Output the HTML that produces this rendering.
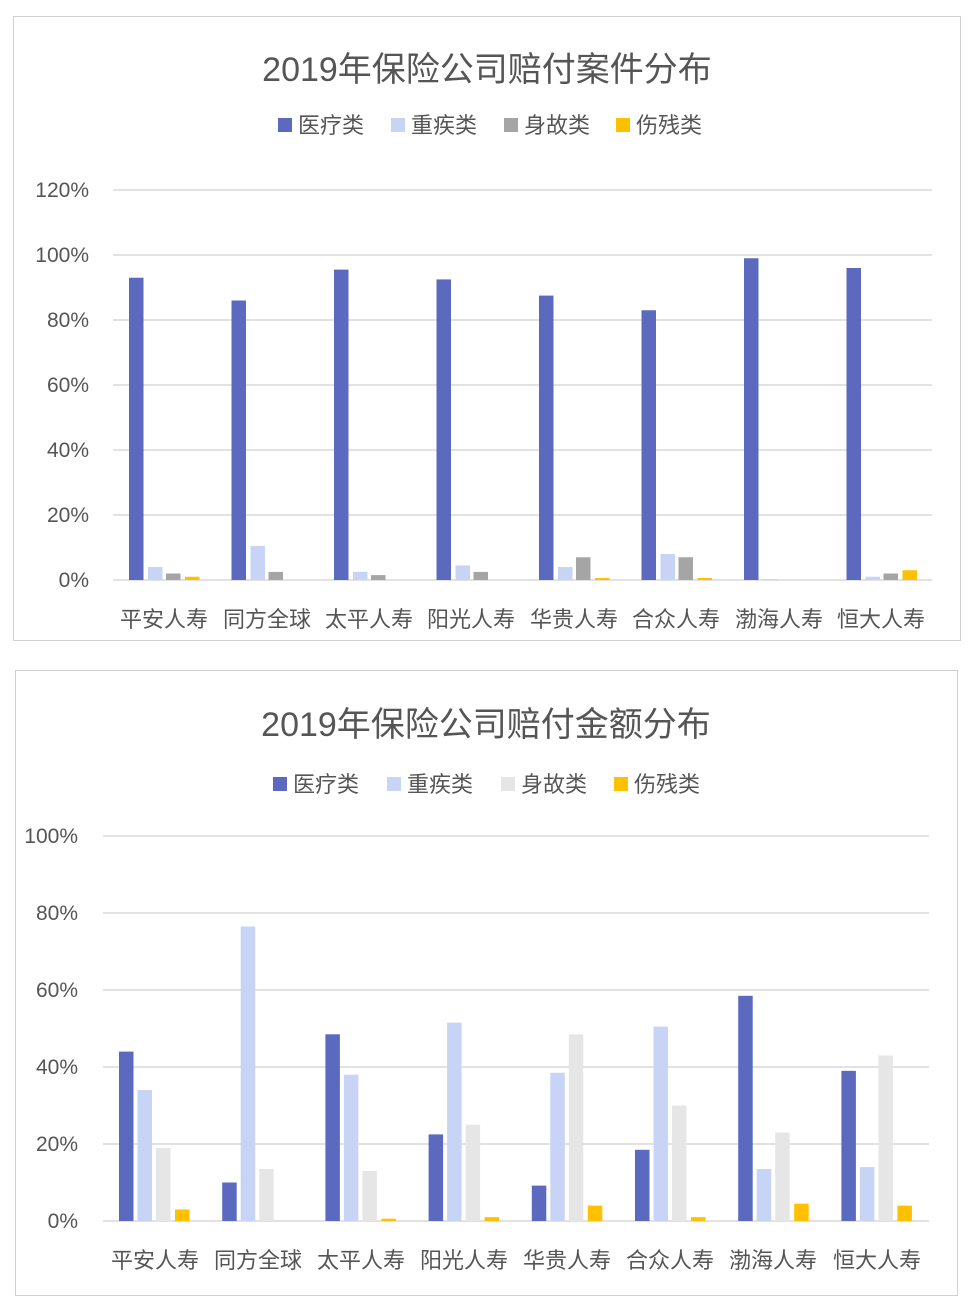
<!DOCTYPE html>
<html><head><meta charset="utf-8"><style>
body{margin:0;background:#fff;}
svg{display:block;font-family:"Liberation Sans","Noto Sans CJK SC",sans-serif;}
</style></head><body>
<svg width="974" height="1307" xmlns="http://www.w3.org/2000/svg">
<rect x="0" y="0" width="974" height="1307" fill="#fff"/>
<!-- Chart 1 -->
<rect x="13.5" y="16.5" width="947" height="624" fill="#fff" stroke="#d0d0d0"/>
<text x="487" y="81" font-size="34" text-anchor="middle" fill="#555">2019年保险公司赔付案件分布</text>
<g font-size="22" fill="#555">
<rect x="278" y="118" width="14" height="14" fill="#5b6abf"/><text x="298" y="133">医疗类</text>
<rect x="391" y="118" width="14" height="14" fill="#c7d4f5"/><text x="411" y="133">重疾类</text>
<rect x="504" y="118" width="14" height="14" fill="#a5a5a5"/><text x="524" y="133">身故类</text>
<rect x="616" y="118" width="14" height="14" fill="#ffc000"/><text x="636" y="133">伤残类</text>
</g>
<g stroke="#d9d9d9" stroke-width="1.5">
<line x1="113" x2="932" y1="190" y2="190"/><line x1="113" x2="932" y1="255" y2="255"/>
<line x1="113" x2="932" y1="320" y2="320"/><line x1="113" x2="932" y1="385" y2="385"/>
<line x1="113" x2="932" y1="450" y2="450"/><line x1="113" x2="932" y1="515" y2="515"/>
<line x1="113" x2="932" y1="580" y2="580"/>
</g>
<g font-size="21" fill="#555" text-anchor="end">
<text x="89" y="197">120%</text><text x="89" y="262">100%</text><text x="89" y="327">80%</text>
<text x="89" y="392">60%</text><text x="89" y="457">40%</text><text x="89" y="522">20%</text><text x="89" y="587">0%</text>
</g>
<g>
<rect x="129" y="277.75" width="14.5" height="302.25" fill="#5b6abf"/>
<rect x="148" y="567" width="14.5" height="13" fill="#c7d4f5"/>
<rect x="166" y="573.5" width="14.5" height="6.5" fill="#a5a5a5"/>
<rect x="185" y="576.75" width="14.5" height="3.25" fill="#ffc000"/>

<rect x="231.5" y="300.5" width="14.5" height="279.5" fill="#5b6abf"/>
<rect x="250.5" y="545.9" width="14.5" height="34.1" fill="#c7d4f5"/>
<rect x="268.5" y="571.9" width="14.5" height="8.1" fill="#a5a5a5"/>

<rect x="334" y="269.6" width="14.5" height="310.4" fill="#5b6abf"/>
<rect x="353" y="571.9" width="14.5" height="8.1" fill="#c7d4f5"/>
<rect x="371" y="575.1" width="14.5" height="4.9" fill="#a5a5a5"/>

<rect x="436.5" y="279.4" width="14.5" height="300.6" fill="#5b6abf"/>
<rect x="455.5" y="565.4" width="14.5" height="14.6" fill="#c7d4f5"/>
<rect x="473.5" y="571.9" width="14.5" height="8.1" fill="#a5a5a5"/>

<rect x="539" y="295.6" width="14.5" height="284.4" fill="#5b6abf"/>
<rect x="558" y="567" width="14.5" height="13" fill="#c7d4f5"/>
<rect x="576" y="557.25" width="14.5" height="22.75" fill="#a5a5a5"/>
<rect x="595" y="578" width="14.5" height="2" fill="#ffc000"/>

<rect x="641.5" y="310.25" width="14.5" height="269.75" fill="#5b6abf"/>
<rect x="660.5" y="554" width="14.5" height="26" fill="#c7d4f5"/>
<rect x="678.5" y="557.25" width="14.5" height="22.75" fill="#a5a5a5"/>
<rect x="697.5" y="578" width="14.5" height="2" fill="#ffc000"/>

<rect x="744" y="258.25" width="14.5" height="321.75" fill="#5b6abf"/>
<rect x="763" y="579" width="14.5" height="1" fill="#c7d4f5"/>

<rect x="846.5" y="268" width="14.5" height="312" fill="#5b6abf"/>
<rect x="865.5" y="576.75" width="14.5" height="3.25" fill="#c7d4f5"/>
<rect x="883.5" y="573.5" width="14.5" height="6.5" fill="#a5a5a5"/>
<rect x="902.5" y="570.25" width="14.5" height="9.75" fill="#ffc000"/>
</g>
<g font-size="22" fill="#555" text-anchor="middle">
<text x="164" y="627">平安人寿</text><text x="267" y="627">同方全球</text><text x="369" y="627">太平人寿</text>
<text x="471" y="627">阳光人寿</text><text x="574" y="627">华贵人寿</text><text x="676" y="627">合众人寿</text>
<text x="779" y="627">渤海人寿</text><text x="881" y="627">恒大人寿</text>
</g>
<!-- Chart 2 -->
<rect x="15.5" y="670.5" width="942" height="625" fill="#fff" stroke="#d0d0d0"/>
<text x="486" y="736" font-size="34" text-anchor="middle" fill="#555">2019年保险公司赔付金额分布</text>
<g font-size="22" fill="#555">
<rect x="273" y="777" width="14" height="14" fill="#5b6abf"/><text x="293" y="792">医疗类</text>
<rect x="387" y="777" width="14" height="14" fill="#c7d4f5"/><text x="407" y="792">重疾类</text>
<rect x="501" y="777" width="14" height="14" fill="#e6e6e6"/><text x="521" y="792">身故类</text>
<rect x="614" y="777" width="14" height="14" fill="#ffc000"/><text x="634" y="792">伤残类</text>
</g>
<g stroke="#d9d9d9" stroke-width="1.5">
<line x1="103" x2="929" y1="836" y2="836"/><line x1="103" x2="929" y1="913" y2="913"/>
<line x1="103" x2="929" y1="990" y2="990"/><line x1="103" x2="929" y1="1067" y2="1067"/>
<line x1="103" x2="929" y1="1144" y2="1144"/><line x1="103" x2="929" y1="1221" y2="1221"/>
</g>
<g font-size="21" fill="#555" text-anchor="end">
<text x="78" y="843">100%</text><text x="78" y="920">80%</text><text x="78" y="997">60%</text>
<text x="78" y="1074">40%</text><text x="78" y="1151">20%</text><text x="78" y="1228">0%</text>
</g>
<g>
<rect x="119" y="1051.6" width="14.5" height="169.4" fill="#5b6abf"/>
<rect x="137.5" y="1090.1" width="14.5" height="130.9" fill="#c7d4f5"/>
<rect x="156" y="1147.85" width="14.5" height="73.15" fill="#e6e6e6"/>
<rect x="175" y="1209.45" width="14.5" height="11.55" fill="#ffc000"/>

<rect x="222.2" y="1182.5" width="14.5" height="38.5" fill="#5b6abf"/>
<rect x="240.7" y="926.5" width="14.5" height="294.5" fill="#c7d4f5"/>
<rect x="259.2" y="1169" width="14.5" height="52" fill="#e6e6e6"/>

<rect x="325.4" y="1034.3" width="14.5" height="186.7" fill="#5b6abf"/>
<rect x="343.9" y="1074.7" width="14.5" height="146.3" fill="#c7d4f5"/>
<rect x="362.4" y="1171" width="14.5" height="50" fill="#e6e6e6"/>
<rect x="381.4" y="1218.7" width="14.5" height="2.3" fill="#ffc000"/>

<rect x="428.6" y="1134.4" width="14.5" height="86.6" fill="#5b6abf"/>
<rect x="447.1" y="1022.7" width="14.5" height="198.3" fill="#c7d4f5"/>
<rect x="465.6" y="1124.75" width="14.5" height="96.25" fill="#e6e6e6"/>
<rect x="484.6" y="1217.15" width="14.5" height="3.85" fill="#ffc000"/>

<rect x="531.8" y="1185.6" width="14.5" height="35.4" fill="#5b6abf"/>
<rect x="550.3" y="1072.8" width="14.5" height="148.2" fill="#c7d4f5"/>
<rect x="568.8" y="1034.3" width="14.5" height="186.7" fill="#e6e6e6"/>
<rect x="587.8" y="1205.6" width="14.5" height="15.4" fill="#ffc000"/>

<rect x="635" y="1149.8" width="14.5" height="71.2" fill="#5b6abf"/>
<rect x="653.5" y="1026.6" width="14.5" height="194.4" fill="#c7d4f5"/>
<rect x="672" y="1105.5" width="14.5" height="115.5" fill="#e6e6e6"/>
<rect x="691" y="1217.15" width="14.5" height="3.85" fill="#ffc000"/>

<rect x="738.2" y="995.8" width="14.5" height="225.2" fill="#5b6abf"/>
<rect x="756.7" y="1169" width="14.5" height="52" fill="#c7d4f5"/>
<rect x="775.2" y="1132.45" width="14.5" height="88.55" fill="#e6e6e6"/>
<rect x="794.2" y="1203.7" width="14.5" height="17.3" fill="#ffc000"/>

<rect x="841.4" y="1070.85" width="14.5" height="150.15" fill="#5b6abf"/>
<rect x="859.9" y="1167.1" width="14.5" height="53.9" fill="#c7d4f5"/>
<rect x="878.4" y="1055.45" width="14.5" height="165.55" fill="#e6e6e6"/>
<rect x="897.4" y="1205.6" width="14.5" height="15.4" fill="#ffc000"/>
</g>
<g font-size="22" fill="#555" text-anchor="middle">
<text x="155" y="1268">平安人寿</text><text x="258" y="1268">同方全球</text><text x="361" y="1268">太平人寿</text>
<text x="464" y="1268">阳光人寿</text><text x="567" y="1268">华贵人寿</text><text x="670" y="1268">合众人寿</text>
<text x="773" y="1268">渤海人寿</text><text x="877" y="1268">恒大人寿</text>
</g>
</svg>
</body></html>
